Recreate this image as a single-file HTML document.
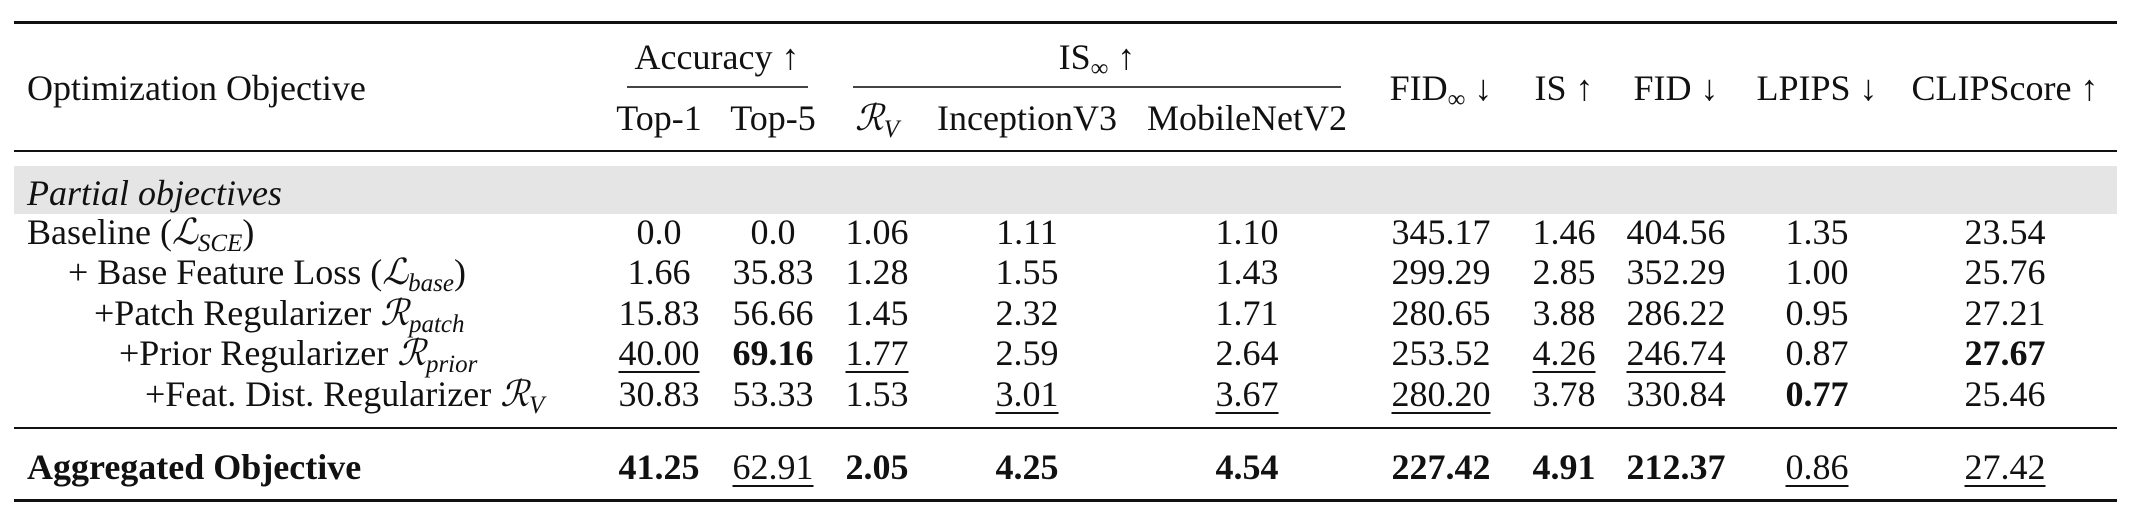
<!DOCTYPE html>
<html><head><meta charset="utf-8">
<style>
html,body{margin:0;padding:0;background:#fff;}
#t{position:relative;width:2136px;height:527px;overflow:hidden;font-family:"Liberation Serif","DejaVu Serif",serif;font-size:36px;color:#111;}
.c{position:absolute;height:40px;line-height:40px;white-space:nowrap;}
.ctr{width:300px;text-align:center;}
.rule{position:absolute;background:#111;}
.b{font-weight:bold;}
.u{text-decoration:underline;text-decoration-thickness:2px;text-underline-offset:6px;}
.m{font-style:italic;}
sub{font-size:25px;font-style:italic;vertical-align:-7px;line-height:0;}
</style></head><body>
<div id="t">
  <div class="rule" style="left:14px;top:21px;width:2103px;height:3px"></div>
  <div class="rule" style="left:627px;top:86px;width:181px;height:2px;background:#444"></div>
  <div class="rule" style="left:853px;top:86px;width:488px;height:2px;background:#444"></div>
  <div class="rule" style="left:14px;top:150px;width:2103px;height:2px"></div>
  <div style="position:absolute;left:14px;top:166px;width:2103px;height:48px;background:#e5e5e5"></div>
  <div class="rule" style="left:14px;top:427px;width:2103px;height:2px"></div>
  <div class="rule" style="left:14px;top:499px;width:2103px;height:3px"></div>

  <div class="c" style="left:27px;top:68px">Optimization Objective</div>
  <div class="c ctr" style="left:567px;top:37px">Accuracy ↑</div>
  <div class="c ctr" style="left:947px;top:37px">IS<sub style="font-style:normal">∞</sub> ↑</div>
  <div class="c" style="left:27px;top:173px"><i>Partial objectives</i></div>
  <div id="rows"></div>
</div>
<script>
const colX=[659,773,877,1027,1247,1441,1564,1676,1817,2005];
const subHeaders=["Top-1","Top-5","<i>ℛ</i><sub>V</sub>","InceptionV3","MobileNetV2"];
const mainHeaders=["FID<sub style='font-style:normal'>∞</sub> ↓","IS ↑","FID ↓","LPIPS ↓","CLIPScore ↑"];
const rowLabels=["Baseline (<i>ℒ</i><sub>SCE</sub>)","+ Base Feature Loss (<i>ℒ</i><sub>base</sub>)","+Patch Regularizer <i>ℛ</i><sub>patch</sub>","+Prior Regularizer <i>ℛ</i><sub>prior</sub>","+Feat. Dist. Regularizer <i>ℛ</i><sub>V</sub>","<b>Aggregated Objective</b>"];
const rowIndent=[27,68,94,119,145,27];
const rowY=[232,272,313,353,394,467];
const values=[
 ["0.0","0.0","1.06","1.11","1.10","345.17","1.46","404.56","1.35","23.54"],
 ["1.66","35.83","1.28","1.55","1.43","299.29","2.85","352.29","1.00","25.76"],
 ["15.83","56.66","1.45","2.32","1.71","280.65","3.88","286.22","0.95","27.21"],
 ["u40.00","b69.16","u1.77","2.59","2.64","253.52","u4.26","u246.74","0.87","b27.67"],
 ["30.83","53.33","1.53","u3.01","u3.67","u280.20","3.78","330.84","b0.77","25.46"],
 ["b41.25","u62.91","b2.05","b4.25","b4.54","b227.42","b4.91","b212.37","u0.86","u27.42"]
];
const root=document.getElementById('rows');
function mk(cls,left,top,html){const d=document.createElement('div');d.className=cls;d.style.left=left+'px';d.style.top=top+'px';d.innerHTML=html;root.appendChild(d);return d;}
subHeaders.forEach((h,i)=>{
  const d=mk('c ctr',colX[i]-150,98,h);
  
  
});
mainHeaders.forEach((h,i)=>{
  const d=mk('c ctr',colX[i+5]-150,68,h);
  
  
});
rowLabels.forEach((l,r)=>{
  const d=mk('c',rowIndent[r],rowY[r]-20,l);
  
  
  values[r].forEach((v,i)=>{
    let cls='',t=v;
    if(v[0]==='b'){cls='b';t=v.slice(1);} else if(v[0]==='u'){cls='u';t=v.slice(1);}
    const c=mk('c ctr',colX[i]-150,rowY[r]-20,'<span class="'+cls+'">'+t+'</span>');
    
    
  });
});
</script>
</body></html>
